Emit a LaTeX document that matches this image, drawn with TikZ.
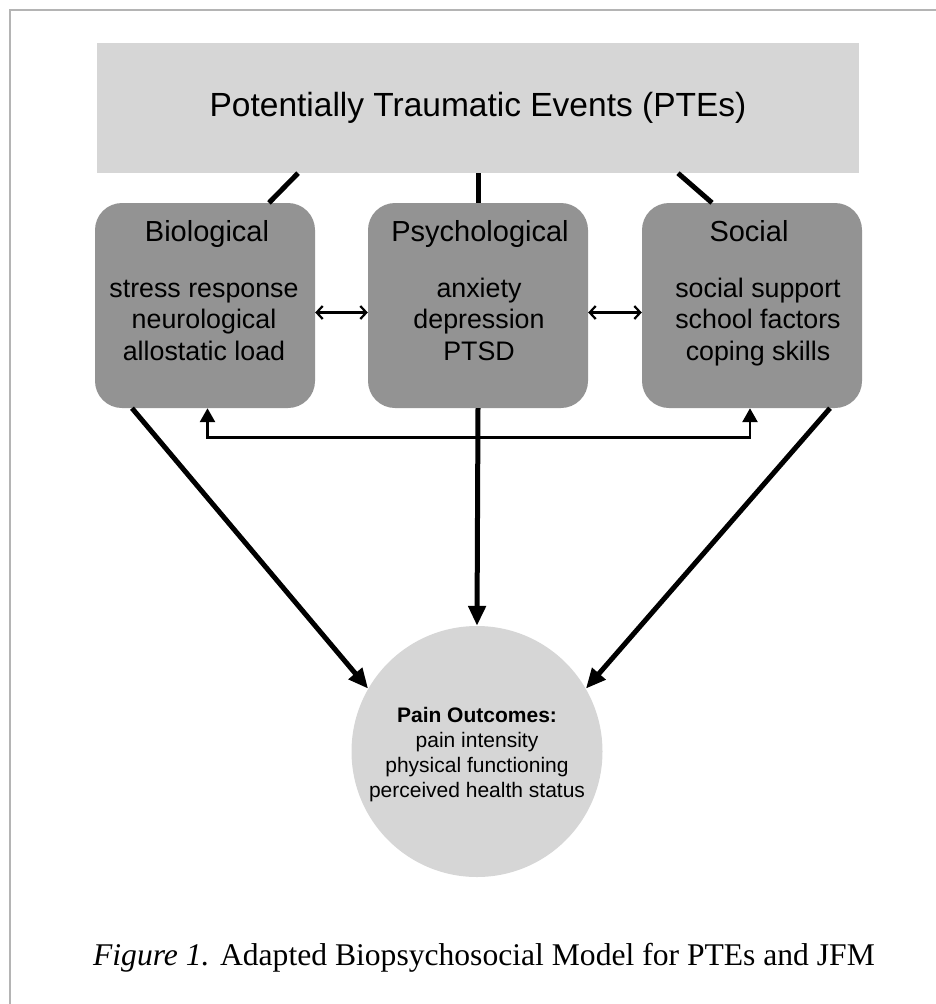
\documentclass[tikz,border=0pt]{standalone}
\usepackage{fontspec}
\setmainfont{Liberation Serif}
\setsansfont{Liberation Sans}
\usetikzlibrary{arrows.meta,calc}
\definecolor{lightbox}{HTML}{D6D6D6}
\definecolor{darkbox}{HTML}{939393}
\definecolor{framegray}{HTML}{B4B4B4}
\begin{document}
\begin{tikzpicture}[x=1pt,y=-1pt,
  catbox/.style={fill=darkbox, rounded corners=27pt, minimum width=220pt, minimum height=205pt, inner sep=0pt},
  cattitle/.style={font=\sffamily\fontsize{29}{34}\selectfont, inner sep=0pt, anchor=base},
  catbody/.style={font=\sffamily\fontsize{26.8}{31.5}\selectfont, inner sep=0pt, anchor=base},
  link/.style={line width=5pt},
  linkarrow/.style={line width=5pt, -{Triangle[length=20pt,width=17pt]}},
  dbl/.style={line width=2.2pt, {Straight Barb[length=6pt,width=13pt]}-{Straight Barb[length=6pt,width=13pt]}},
  fb/.style={line width=2.7pt, {Triangle[length=14pt,width=15pt]}-{Triangle[length=14pt,width=15pt]}}
]
\useasboundingbox (0,0) rectangle (936,1004);
\draw[framegray, line width=2.5pt] (10,1010) -- (10,10) -- (940,10);

% top box
\node[fill=lightbox, minimum width=762pt, minimum height=130pt, inner sep=0pt,
      font=\sffamily\fontsize{33.5}{38}\selectfont] (top) at (478,108) {Potentially Traumatic Events (PTEs)};

% category boxes
\node[catbox] (bio) at (205,305.5) {};
\node[catbox] (psy) at (478,305.5) {};
\node[catbox] (soc) at (752,305.5) {};

\node[cattitle] (biot) at (207,241) {Biological};
\node[cattitle] (psyt) at (480,241) {Psychological};
\node[cattitle] (soct) at (749,241) {Social};

\node[catbody] (bio1) at (204,297) {stress response};
\node[catbody] (bio2) at (204,328.5) {neurological};
\node[catbody] (bio3) at (204,360) {allostatic load};
\node[catbody] (psy1) at (479,297) {anxiety};
\node[catbody] (psy2) at (479,328.5) {depression};
\node[catbody] (psy3) at (479,360) {PTSD};
\node[catbody] (soc1) at (758,297) {social support};
\node[catbody] (soc2) at (758,328.5) {school factors};
\node[catbody] (soc3) at (758,360) {coping skills};

% outcome circle
\node[circle, fill=lightbox, minimum size=251pt, inner sep=0pt] (out) at (477,751.5) {};
\node[font=\sffamily\fontsize{21}{25}\selectfont, align=center, inner sep=0pt] (outt) at (477,755)
  {\textbf{Pain Outcomes:}\\pain intensity\\physical functioning\\perceived health status};

% double arrows between boxes
\draw[dbl] ([yshift=-7pt]bio.east) -- ([yshift=-7pt]psy.west);
\draw[dbl] ([yshift=-7pt]psy.east) -- ([yshift=-7pt]soc.west);

% feedback arrow
\draw[fb] ([xshift=2.5pt]bio.south) -- ++(0,29) -| ([xshift=-2pt]soc.south);

% links from top box
\draw[link] ([xshift=-180pt]top.south) -- ([xshift=64pt]bio.north);
\draw[link] (top.south) -- (psy.north);
\draw[link] ([xshift=200pt]top.south) -- ([xshift=-40pt]soc.north);

% arrows to outcome
\draw[linkarrow] ([xshift=-73pt]bio.south) -- (out.150);
\draw[linkarrow] (psy.south) -- (out.north);
\draw[linkarrow] ([xshift=78pt]soc.south) -- (out.30);

% caption
\node[font=\rmfamily\fontsize{31.6}{36}\selectfont, anchor=base, inner sep=0pt] (cap) at (484,965)
  {\textit{Figure 1.} Adapted Biopsychosocial Model for PTEs and JFM};
\end{tikzpicture}
\end{document}
